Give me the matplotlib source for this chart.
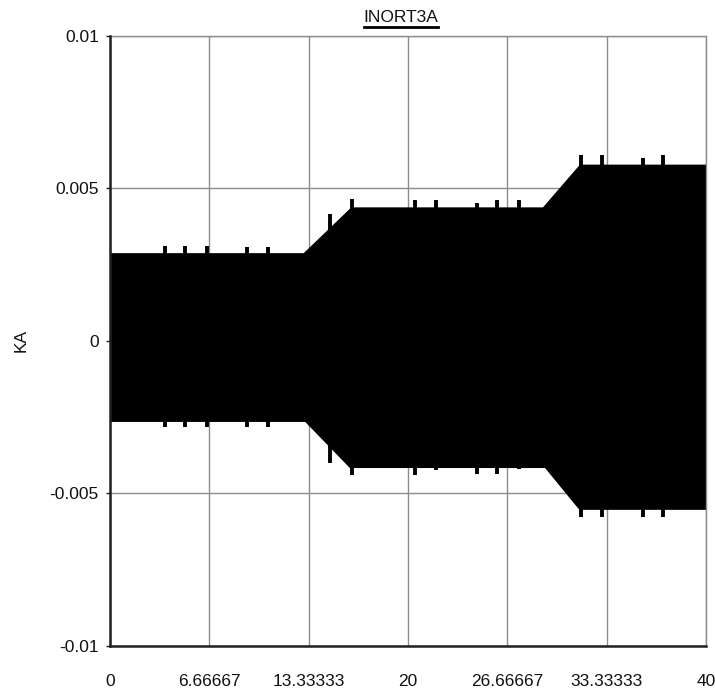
import matplotlib
matplotlib.use("Agg")
import matplotlib.pyplot as plt
from matplotlib.lines import Line2D
import numpy as np

plt.rcParams['font.family'] = ['Liberation Sans', 'DejaVu Sans']

# Envelope of the INORT3A current waveform (kA) versus time
upper_t = [0.0, 13.0, 16.2, 29.06, 31.54, 40.0]
upper_v = [0.00287, 0.00287, 0.00437, 0.00437, 0.00577, 0.00577]
lower_t = [0.0, 13.1, 16.1, 29.2, 31.5, 40.0]
lower_v = [-0.00266, -0.00266, -0.00417, -0.00417, -0.00554, -0.00554]

# Short switching spikes that poke out of the envelope
spike_t = [3.69, 5.03, 6.49, 9.17, 10.63, 14.77, 16.22, 20.47, 21.88,
           24.61, 26.0, 27.47, 31.6, 33.0, 35.8, 37.1]
spike_hi = [0.00311, 0.00311, 0.00311, 0.00306, 0.00306, 0.00415, 0.00464,
            0.00462, 0.00462, 0.00450, 0.00462, 0.00462, 0.00607, 0.00607,
            0.00600, 0.00607]
spike_lo = [-0.00284, -0.00284, -0.00284, -0.00284, -0.00284, -0.00400,
            -0.00439, -0.00439, -0.00425, -0.00435, -0.00435, -0.00420,
            -0.00576, -0.00576, -0.00576, -0.00576]

x_ticks = [0, 6.66667, 13.33333, 20, 26.66667, 33.33333, 40]
x_labels = ['0', '6.66667', '13.33333', '20', '26.66667', '33.33333', '40']
y_ticks = [-0.01, -0.005, 0, 0.005, 0.01]
y_labels = ['-0.01', '-0.005', '0', '0.005', '0.01']

fig = plt.figure(figsize=(7.15, 6.91), dpi=100)
ax = fig.add_axes([110 / 715, 45 / 691, 596 / 715, 610.5 / 691])

grid_col = '#8c8c8c'
ax.set_xlim(0, 40)
ax.set_ylim(-0.01, 0.01)
ax.set_xticks(x_ticks)
ax.set_xticklabels(x_labels)
ax.set_yticks(y_ticks)
ax.set_yticklabels(y_labels)
ax.grid(True, color=grid_col, linewidth=1.0)
ax.set_axisbelow(True)

poly_x = np.concatenate([upper_t, lower_t[::-1]])
poly_y = np.concatenate([upper_v, lower_v[::-1]])
ax.fill(poly_x, poly_y, color='black', linewidth=0, zorder=2)
ax.vlines(spike_t, spike_lo, spike_hi, color='black', linewidth=2.8, zorder=2)

for side in ('top', 'right'):
    ax.spines[side].set_color(grid_col)
    ax.spines[side].set_linewidth(1.0)
for side in ('left', 'bottom'):
    ax.spines[side].set_color('#202020')
    ax.spines[side].set_linewidth(1.8)
    ax.spines[side].set_zorder(5)

ax.tick_params(axis='y', length=3, width=1, color='#202020', pad=5,
               labelsize=12.5, labelcolor='#111111')
ax.tick_params(axis='x', length=0, pad=20, labelsize=12.5,
               labelcolor='#111111')

ax.set_ylabel('KA', fontsize=12.5, color='#111111', labelpad=15)

title = fig.text(401 / 715, 1 - 17 / 691, 'INORT3A', ha='center', va='center',
                 fontsize=12.5, color='#111111')

# underline beneath the title
fig.canvas.draw()
bb = title.get_window_extent(renderer=fig.canvas.get_renderer())
uy = (bb.y0 - 2) / fig.bbox.height
fig.add_artist(Line2D([bb.x0 / fig.bbox.width, bb.x1 / fig.bbox.width], [uy, uy],
                      transform=fig.transFigure, color='black', linewidth=2.0))

fig.savefig('out.png', dpi=100, facecolor='white')
